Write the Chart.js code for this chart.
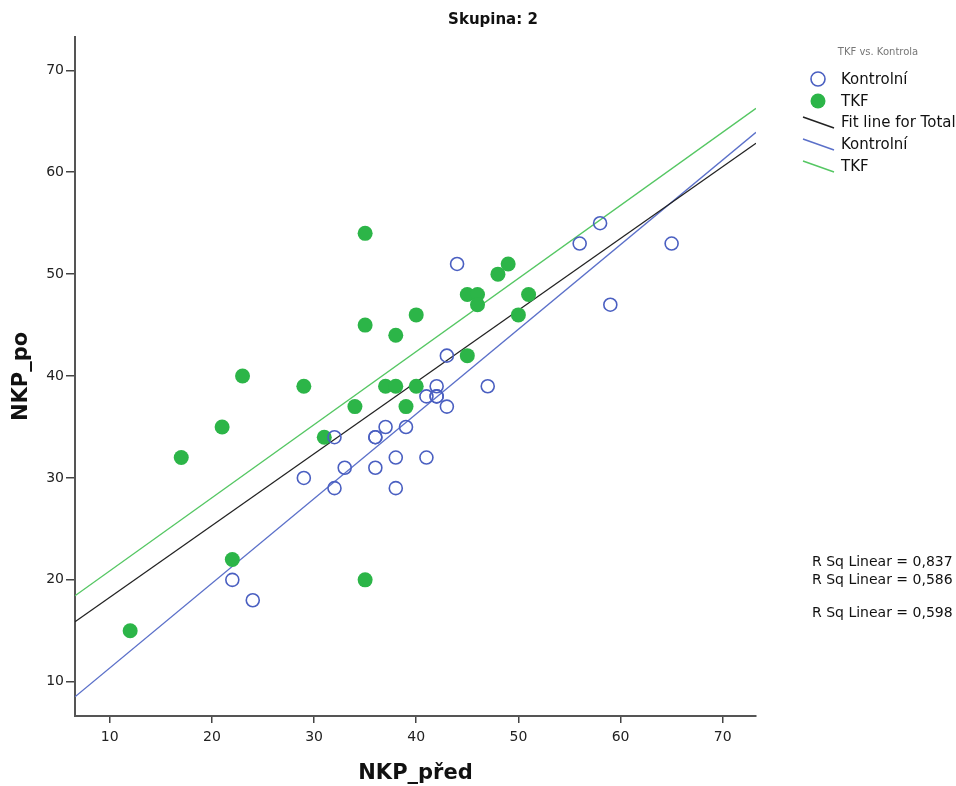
<!DOCTYPE html>
<html>
<head>
<meta charset="utf-8">
<script src="https://cdn.jsdelivr.net/npm/chart.js@4"></script>
<style>
  html, body { margin: 0; padding: 0; background: #fff; }
  #wrap { width: 956px; height: 786px; }
</style>
</head>
<body>
<div id="wrap"><canvas id="chart"></canvas></div>
<script>
// Kontrolní (open circles)
const kontrolX = [22, 24, 29, 32, 32, 33, 36, 36, 36, 37, 38, 38, 39, 41, 41, 42, 42, 42, 43, 43, 44, 47, 56, 58, 59, 65];
const kontrolY = [20, 18, 30, 34, 29, 31, 34, 34, 31, 35, 32, 29, 35, 38, 32, 39, 38, 38, 42, 37, 51, 39, 53, 55, 47, 53];
// TKF (filled circles)
const tkfX = [12, 17, 21, 22, 23, 29, 31, 34, 35, 35, 35, 37, 38, 38, 39, 40, 40, 45, 45, 46, 46, 48, 49, 50, 51];
const tkfY = [15, 32, 35, 22, 40, 39, 34, 37, 54, 45, 20, 39, 39, 44, 37, 46, 39, 48, 42, 48, 47, 50, 51, 46, 48];

// fit lines: [intercept, slope] for Total, Kontrolní, TKF
const fitTotal = [11.24, 0.7043];
const fitKontrol = [3.04, 0.831];
const fitTkf = [13.70, 0.7175];

const xTicks = [10, 20, 30, 40, 50, 60, 70];
const yTicks = [10, 20, 30, 40, 50, 60, 70];
const rsqLabels = ['R Sq Linear = 0,837', 'R Sq Linear = 0,586', 'R Sq Linear = 0,598'];

const xMin = 6.6, xMax = 73.26, yMin = 6.64, yMax = 73.27;

const toPts = (xs, ys) => xs.map((x, i) => ({ x: x, y: ys[i] }));
const linePts = ([a, b]) => [{ x: xMin, y: a + b * xMin }, { x: xMax, y: a + b * xMax }];

const blue = '#4a5fc1';
const green = '#2cb548';
const blueLine = '#5b70c9';
const greenLine = '#55c763';

const FONT = '"DejaVu Sans", sans-serif';

const overlay = {
  id: 'overlay',
  afterDraw(chart) {
    const ctx = chart.ctx;
    ctx.save();
    // title
    ctx.fillStyle = '#111';
    ctx.font = 'bold 15px ' + FONT;
    ctx.textAlign = 'center';
    ctx.textBaseline = 'middle';
    ctx.fillText('Skupina: 2', 493, 20);

    // legend header
    ctx.fillStyle = '#777';
    ctx.font = '10px ' + FONT;
    ctx.fillText('TKF vs. Kontrola', 878, 52);

    ctx.textAlign = 'left';
    ctx.fillStyle = '#111';
    ctx.font = '15px ' + FONT;
    // marker items
    ctx.beginPath();
    ctx.arc(818, 79, 7, 0, Math.PI * 2);
    ctx.strokeStyle = blue; ctx.lineWidth = 1.6; ctx.stroke();
    ctx.fillText('Kontrolní', 841, 80);
    ctx.beginPath();
    ctx.arc(818, 101, 7.5, 0, Math.PI * 2);
    ctx.fillStyle = green; ctx.fill();
    ctx.fillStyle = '#111';
    ctx.fillText('TKF', 841, 102);
    // line items
    const lines = [['Fit line for Total', '#222', 123], ['Kontrolní', blueLine, 145], ['TKF', greenLine, 167]];
    lines.forEach(([txt, col, y]) => {
      ctx.beginPath();
      ctx.moveTo(803, y - 6); ctx.lineTo(834, y + 5);
      ctx.strokeStyle = col; ctx.lineWidth = 1.5; ctx.stroke();
      ctx.fillText(txt, 841, y);
    });

    // R squared notes
    ctx.font = '14px ' + FONT;
    [562, 580, 613].forEach((y, i) => ctx.fillText(rsqLabels[i], 812, y));
    ctx.restore();
  }
};

new Chart(document.getElementById('chart'), {
  type: 'scatter',
  data: {
    datasets: [
      {
        label: 'Fit line for Total',
        type: 'line',
        data: linePts(fitTotal),
        borderColor: '#222',
        borderWidth: 1.3,
        pointRadius: 0,
        fill: false,
        order: 3
      },
      {
        label: 'Kontrolní fit',
        type: 'line',
        data: linePts(fitKontrol),
        borderColor: blueLine,
        borderWidth: 1.3,
        pointRadius: 0,
        fill: false,
        order: 3
      },
      {
        label: 'TKF fit',
        type: 'line',
        data: linePts(fitTkf),
        borderColor: greenLine,
        borderWidth: 1.3,
        pointRadius: 0,
        fill: false,
        order: 3
      },
      {
        label: 'TKF',
        data: toPts(tkfX, tkfY),
        backgroundColor: green,
        borderColor: green,
        borderWidth: 0,
        pointRadius: 7.5,
        order: 2
      },
      {
        label: 'Kontrolní',
        data: toPts(kontrolX, kontrolY),
        backgroundColor: 'rgba(0,0,0,0)',
        borderColor: blue,
        borderWidth: 1.6,
        pointRadius: 6.5,
        order: 1
      }
    ]
  },
  options: {
    responsive: true,
    maintainAspectRatio: false,
    animation: false,
    layout: { padding: { top: 37, right: 200, left: 0, bottom: 0 } },
    plugins: {
      legend: { display: false },
      tooltip: { enabled: false },
      title: { display: false }
    },
    scales: {
      x: {
        type: 'linear',
        min: xMin,
        max: xMax,
        afterFit(scale) { scale.height = 70; },
        afterBuildTicks(scale) { scale.ticks = xTicks.map(v => ({ value: v })); },
        grid: { display: true, drawOnChartArea: false, drawTicks: true, tickLength: 7, color: '#444', lineWidth: 1.5 },
        border: { display: true, color: '#555', width: 2 },
        ticks: { color: '#222', font: { family: FONT, size: 14 }, padding: 6 },
        title: { display: true, text: 'NKP_před', color: '#111', font: { family: FONT, size: 21, weight: 'bold' }, padding: { top: 0, bottom: 0 } }
      },
      y: {
        type: 'linear',
        min: yMin,
        max: yMax,
        afterFit(scale) { scale.width = 75; },
        afterBuildTicks(scale) { scale.ticks = yTicks.map(v => ({ value: v })); },
        grid: { display: true, drawOnChartArea: false, drawTicks: true, tickLength: 9, color: '#444', lineWidth: 1.5 },
        border: { display: true, color: '#555', width: 2 },
        ticks: { color: '#222', font: { family: FONT, size: 14 }, padding: 2 },
        title: { display: true, text: 'NKP_po', color: '#111', font: { family: FONT, size: 21, weight: 'bold' }, padding: { top: 9, bottom: 0 } }
      }
    }
  },
  plugins: [overlay]
});
</script>
</body>
</html>
